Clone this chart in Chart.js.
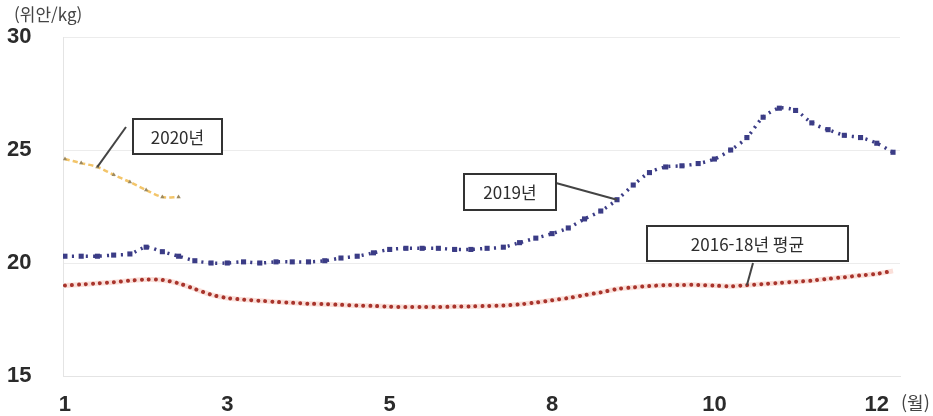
<!DOCTYPE html>
<html lang="ko">
<head>
<meta charset="utf-8">
<script src="https://cdn.jsdelivr.net/npm/chart.js@4.4.0/dist/chart.umd.min.js"></script>
<style>
  html, body { margin: 0; padding: 0; background: #fff; }
  #wrap { width: 933px; height: 416px; position: relative; }
</style>
</head>
<body>
<div id="wrap"><canvas id="priceChart"></canvas></div>
<script>
// weekly index (1..52) and the month shown under every 10th week
const weeks = [1, 2, 3, 4, 5, 6, 7, 8, 9, 10, 11, 12, 13, 14, 15, 16, 17, 18, 19, 20,
  21, 22, 23, 24, 25, 26, 27, 28, 29, 30, 31, 32, 33, 34, 35, 36, 37, 38, 39, 40,
  41, 42, 43, 44, 45, 46, 47, 48, 49, 50, 51, 52];
const tickWeeks = [1, 11, 21, 31, 41, 51];
const monthLabels = ['1', '3', '5', '8', '10', '12'];
const yTicks = [15, 20, 25, 30];

// prices, 위안/kg
const price2019 = [20.3, 20.3, 20.3, 20.35, 20.4, 20.7, 20.5, 20.3, 20.1, 20.0,
  20.0, 20.05, 20.0, 20.05, 20.05, 20.05, 20.1, 20.22, 20.3, 20.45,
  20.6, 20.65, 20.65, 20.65, 20.6, 20.6, 20.65, 20.7, 20.9, 21.1,
  21.3, 21.55, 21.95, 22.3, 22.8, 23.45, 24.0, 24.25, 24.3, 24.4,
  24.6, 25.0, 25.55, 26.45, 26.85, 26.75, 26.2, 25.9, 25.65, 25.55,
  25.3, 24.9];
const priceAvg1618 = [19.0, 19.05, 19.1, 19.15, 19.22, 19.27, 19.25, 19.1, 18.85, 18.6,
  18.45, 18.38, 18.33, 18.28, 18.24, 18.2, 18.18, 18.15, 18.12, 18.1,
  18.07, 18.05, 18.05, 18.05, 18.07, 18.08, 18.1, 18.12, 18.17, 18.25,
  18.35, 18.45, 18.58, 18.7, 18.85, 18.92, 18.98, 19.02, 19.03, 19.03,
  19.0, 18.97, 19.02, 19.07, 19.12, 19.17, 19.22, 19.3, 19.37, 19.45,
  19.52, 19.65];
const price2020 = [24.6, 24.42, 24.25, 23.9, 23.58, 23.23, 22.92, 22.92];

const pts = arr => arr.map((v, i) => ({ x: weeks[i], y: v }));

const labelFont = 'Liberation Sans, Arial, sans-serif';
const krFont = '"Noto Sans CJK KR", "Noto Sans", sans-serif';

// boxed labels with a leader line to one point of a series
const callouts = [
  { text: '2020년', dataset: 3, index: 2, box: [133, 119, 89, 35], from: [126, 127] },
  { text: '2019년', dataset: 0, index: 34, box: [464, 174, 92, 36], from: [556, 183] },
  { text: '2016-18년 평균', dataset: 1, index: 42, box: [647, 226, 201, 35], from: [753, 263] }
];

const calloutPlugin = {
  id: 'callouts',
  afterDatasetsDraw(chart) {
    const { ctx } = chart;
    ctx.save();
    callouts.forEach(c => {
      const pt = chart.getDatasetMeta(c.dataset).data[c.index];
      ctx.strokeStyle = '#444';
      ctx.lineWidth = 2;
      ctx.beginPath();
      ctx.moveTo(c.from[0], c.from[1]);
      ctx.lineTo(pt.x, pt.y);
      ctx.stroke();
      const [bx, by, bw, bh] = c.box;
      ctx.fillStyle = '#fff';
      ctx.fillRect(bx, by, bw, bh);
      ctx.strokeStyle = '#333';
      ctx.strokeRect(bx, by, bw, bh);
      ctx.fillStyle = '#2e2e2e';
      ctx.font = '17px ' + krFont;
      ctx.textAlign = 'center';
      ctx.textBaseline = 'middle';
      ctx.fillText(c.text, bx + bw / 2, by + bh / 2 + 1);
    });
    // unit labels
    ctx.fillStyle = '#444';
    ctx.textAlign = 'left';
    ctx.textBaseline = 'middle';
    ctx.font = '17px ' + krFont;
    ctx.fillText('(위안/kg)', 14, 15);
    ctx.font = '18px ' + krFont;
    ctx.fillText('(월)', 901, 403);
    ctx.restore();
  }
};

new Chart(document.getElementById('priceChart'), {
  type: 'line',
  data: {
    datasets: [
      {
        label: '2019년',
        data: pts(price2019),
        borderColor: '#3b3c86',
        borderWidth: 3.5,
        borderDash: [2, 5],
        pointStyle: 'rect',
        pointRadius: 3.6,
        pointBackgroundColor: '#3b3c86',
        pointBorderWidth: 0,
        tension: 0.3,
        order: 1
      },
      {
        label: '2016-18년 평균',
        data: pts(priceAvg1618),
        borderColor: '#a8342c',
        borderWidth: 4,
        borderDash: [0.01, 7],
        borderCapStyle: 'round',
        pointRadius: 0,
        tension: 0.3,
        order: 2
      },
      {
        label: '2016-18년 평균 halo',
        data: pts(priceAvg1618),
        borderColor: 'rgba(240, 150, 130, 0.3)',
        borderWidth: 5,
        pointRadius: 0,
        tension: 0.3,
        order: 3
      },
      {
        label: '2020년',
        data: pts(price2020),
        borderColor: '#f3c56a',
        borderWidth: 2.5,
        borderDash: [5, 3],
        pointStyle: 'triangle',
        pointRadius: 2.5,
        pointBackgroundColor: '#9c8a62',
        pointBorderWidth: 0,
        tension: 0.3,
        order: 1
      }
    ]
  },
  options: {
    responsive: true,
    maintainAspectRatio: false,
    animation: false,
    layout: { padding: { left: 7, right: 33, top: 37, bottom: 1 } },
    plugins: {
      legend: { display: false },
      tooltip: { enabled: false }
    },
    scales: {
      x: {
        type: 'linear',
        min: 0.88,
        max: 52.43,
        afterBuildTicks: axis => { axis.ticks = tickWeeks.map(v => ({ value: v })); },
        afterFit: axis => { axis.height = 39; },
        ticks: {
          callback: value => monthLabels[tickWeeks.indexOf(value)],
          font: { family: labelFont, size: 22, weight: 'bold', lineHeight: 1 },
          color: '#2b2b2b',
          padding: 18,
          maxRotation: 0
        },
        grid: { display: false, drawTicks: false, tickLength: 0 },
        border: { display: true, color: '#e4e4e4', width: 1 }
      },
      y: {
        min: 15,
        max: 30,
        afterBuildTicks: axis => { axis.ticks = yTicks.map(v => ({ value: v })); },
        afterFit: axis => { axis.width = 56; },
        ticks: {
          font: { family: labelFont, size: 22, weight: 'bold', lineHeight: 1 },
          color: '#2b2b2b',
          crossAlign: 'far',
          padding: 2
        },
        grid: { color: '#ececec', drawTicks: false },
        border: { display: true, color: '#e4e4e4', width: 1 }
      }
    }
  },
  plugins: [calloutPlugin]
});
</script>
</body>
</html>
